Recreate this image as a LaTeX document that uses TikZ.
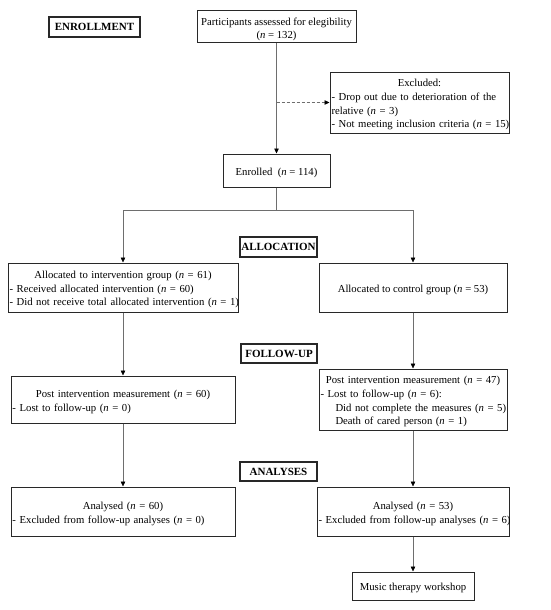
\documentclass[tikz,border=0pt]{standalone}
\usepackage{fontspec}
\setmainfont{Liberation Serif}
\usetikzlibrary{arrows.meta}
\definecolor{boxline}{RGB}{40,40,40}
\definecolor{conn}{RGB}{110,110,110}
\tikzset{
  box/.style={draw=boxline, line width=1pt, inner xsep=1.5pt, inner ysep=0pt, font=\fontsize{10.7}{13.6}\selectfont},
  lab/.style={draw=boxline, line width=1.1pt, inner sep=0pt, font=\fontsize{11}{13}\selectfont\bfseries},
  arr/.style={draw=conn, line width=0.6pt, -{Triangle[length=5pt,width=4.5pt,color=black]}},
  plain/.style={draw=conn, line width=0.6pt},
  dasharr/.style={draw=conn, line width=0.6pt, dash pattern=on 3pt off 2pt, -{Triangle[length=5pt,width=4.5pt,color=black]}}
}
\newcommand{\nn}{\textit{n}}
\newcommand{\tstrut}{\rule{0pt}{12pt}}
\begin{document}
\begin{tikzpicture}[x=1pt,y=-1pt]
\useasboundingbox (0,0) rectangle (550,610);
% stage labels
\node[lab, minimum width=91pt, minimum height=20pt] (lenr) at (94.5,27) {ENROLLMENT};
\node[lab, minimum width=77pt, minimum height=20pt] (lall) at (278.5,247) {ALLOCATION};
\node[lab, minimum width=76pt, minimum height=19pt] (lfu) at (279,353.5) {FOLLOW-UP};
\node[lab, minimum width=77pt, minimum height=19pt] (lan) at (278.5,471.5) {ANALYSES};
% boxes
\node[box, minimum width=159pt, minimum height=32pt, align=center] (part) at (276.5,27)
  {\tstrut Participants assessed for elegibility\\(\nn{} = 132)};
\node[box, minimum width=179pt, minimum height=61pt, text width=176pt, align=left] (exc) at (419.5,102.5)
  {{\centering\tstrut Excluded:\par}- Drop out due to deterioration of the\\relative (\nn{} = 3)\\\mbox{- Not meeting inclusion criteria (\nn{} = 15)}};
\node[box, minimum width=107pt, minimum height=33pt, align=center] (enr) at (276.5,170.5)
  {\tstrut Enrolled~~(\nn{} = 114)};
\node[box, minimum width=230pt, minimum height=49pt, text width=227pt, align=left] (int) at (123,287.5)
  {{\centering\tstrut Allocated to intervention group (\nn{} = 61)\par}- Received allocated intervention (\nn{} = 60)\\\mbox{- Did not receive total allocated intervention (\nn{} = 1)}};
\node[box, minimum width=188pt, minimum height=49pt, align=center] (ctl) at (413,287.5)
  {\tstrut Allocated to control group (\nn{} = 53)};
\node[box, minimum width=224pt, minimum height=47pt, text width=221pt, align=left] (post1) at (123,399.5)
  {{\centering\tstrut Post intervention measurement (\nn{} = 60)\par}- Lost to follow-up (\nn{} = 0)};
\node[box, minimum width=188pt, minimum height=61pt, text width=185pt, align=left] (post2) at (413,399.5)
  {{\centering\tstrut Post intervention measurement (\nn{} = 47)\par}- Lost to follow-up (\nn{} = 6):\\\mbox{\hspace*{15pt}Did not complete the measures (\nn{} = 5)}\\\hspace*{15pt}Death of cared person (\nn{} = 1)};
\node[box, minimum width=224pt, minimum height=49pt, text width=221pt, align=left] (an1) at (123,511.5)
  {{\centering\tstrut Analysed (\nn{} = 60)\par}- Excluded from follow-up analyses (\nn{} = 0)};
\node[box, minimum width=192pt, minimum height=49pt, text width=189pt, align=left] (an2) at (413,511.5)
  {{\centering\tstrut Analysed (\nn{} = 53)\par}\mbox{- Excluded from follow-up analyses (\nn{} = 6)}};
\node[box, minimum width=122pt, minimum height=28pt, align=center] (mus) at (413,586)
  {\tstrut Music therapy workshop};
% connectors
\coordinate (exjoin) at (276.5,102.5);
\coordinate (split) at (276.5,210);
\draw[arr] (part) -- (enr);
\draw[dasharr] (exjoin) -- (exc.west);
\draw[plain] (enr) -- (split);
\draw[arr] (split) -| (int.north);
\draw[arr] (split) -| (ctl.north);
\draw[arr] (int) -- (post1);
\draw[arr] (ctl) -- (post2);
\draw[arr] (post1) -- (an1);
\draw[arr] (post2) -- (an2);
\draw[arr] (an2) -- (mus);
\end{tikzpicture}
\end{document}
